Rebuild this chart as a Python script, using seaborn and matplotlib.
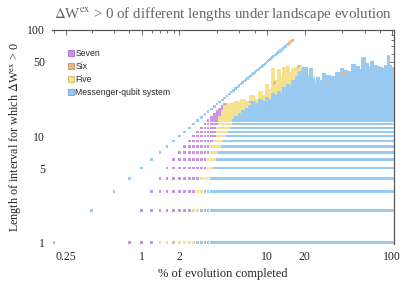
import numpy as np
import pandas as pd
import seaborn as sns
import matplotlib.pyplot as plt
from matplotlib.lines import Line2D
from matplotlib.ticker import FixedLocator, FixedFormatter, NullFormatter

# evolution has 500 steps, step k sits at k/5 % of the evolution
n_steps = 500

# interval covering the whole history so far (length = step)
diag_steps = list(range(1, 81))
diag_six_from = 75

# short intervals: one row per length, steps where each system takes over
row_len = list(range(1, 21))
row_first = [4, 5, 6, 7, 8, 9, 10, 11, 12, 13, 14, 15, 16, 17, 18, 19, 20, 21, 22, 23]
row_five = [7, 13, 14, 15, 17, 17, 18, 18, 19, 20, 20, 20, 21, 21, 21, 22, 22, 23, 23, 24]
row_msg = [14, 15, 16, 18, 19, 20, 21, 22, 23, 24, 25, 26, 27, 27, 28, 30, 32, 34, 36, 38]

# long intervals: longest length per block of steps (block start in %)
block_pct = [5.0, 5.6, 6.2, 6.8, 7.4, 8.0, 8.6, 9.2, 9.8, 10.4, 11.0, 11.6, 12.2,
             12.8, 13.4, 14.0, 14.6, 15.2, 15.8, 16.4, 17.0, 17.6, 18.2, 18.8, 19.4,
             20, 21, 22, 23, 24, 25, 26, 27, 28, 29, 30, 31.5, 33, 34.5, 36, 37.5,
             39, 40.5, 42, 43.5, 45, 46.5, 48, 50, 52, 54, 56, 58, 60, 62, 64, 66,
             68, 70, 72, 74, 76, 78, 80, 82, 84, 86, 88, 90, 92, 94, 96, 98]
five_top = [20, 21, 22, 21, 24, 22, 26, 24, 30, 27, 43, 33, 42, 36, 44, 38, 45, 39,
            43, 37, 44, 44, 46, 40, 43,
            40, 38, 34, 36, 33, 30, 32, 30, 34, 35, 33, 34, 30, 30, 35, 36,
            34, 38, 36, 37, 33, 30, 35, 30, 33, 36, 40, 38, 42, 35, 40, 38,
            36, 41, 44, 38, 35, 40, 36, 39, 35, 38, 45, 42, 44, 38, 35, 38]
msg_top = [20, 20, 20, 20, 21, 20, 22, 21, 23, 22, 25, 24, 26, 25, 28, 27, 30, 29,
           33, 31, 36, 33, 40, 35, 44,
           44, 36, 43, 34, 31, 35, 30, 33, 38, 32, 37, 31, 36, 33, 39, 32,
           43, 35, 41, 33, 40, 36, 47, 35, 45, 38, 42, 54, 40, 48, 37, 45,
           50, 39, 46, 36, 45, 41, 44, 37, 43, 39, 46, 40, 56, 42, 46, 44]

# isolated "Six" points
six_pct = [1.8, 11.4, 11.6, 17.6, 17.8, 29.8, 40.6]
six_len = [1, 31, 32, 45, 46, 32, 39]

systems = ["Seven", "Six", "Five", "Messenger-qubit system"]
colors = {"Seven": "#c993e8", "Six": "#eeb48a", "Five": "#f5e28e",
          "Messenger-qubit system": "#99caf2"}
edge = {"Seven": "#9a5cc0", "Six": "#c07f50", "Five": "#c8b04a",
        "Messenger-qubit system": "#5a94c8"}

recs = []
for L, k0, k5, km in zip(row_len, row_first, row_five, row_msg):
    for k in range(k0, n_steps + 1):
        if k < k5:
            s = "Seven"
        elif k < km:
            s = "Five"
        else:
            s = "Messenger-qubit system"
        recs.append((k / 5, L, s))

ends = block_pct[1:] + [100.2]
for p0, p1, t5, tm in zip(block_pct, ends, five_top, msg_top):
    for k in range(int(round(p0 * 5)), int(round(p1 * 5))):
        for L in range(21, t5 + 1):
            recs.append((k / 5, L, "Five"))
        for L in range(21, tm + 1):
            recs.append((k / 5, L, "Messenger-qubit system"))

for k in diag_steps:
    recs.append((k / 5, k, "Six" if k >= diag_six_from else "Messenger-qubit system"))

for p, L in zip(six_pct, six_len):
    recs.append((p, L, "Six"))

df = pd.DataFrame(recs, columns=["pct", "length", "system"])
draw_order = ["Seven", "Five", "Messenger-qubit system", "Six"]
df["system"] = pd.Categorical(df["system"], categories=draw_order, ordered=True)
df = df.sort_values("system", kind="stable")

sns.set_style("white")
plt.rcParams["font.family"] = ["Liberation Serif", "DejaVu Serif"]
plt.rcParams["mathtext.fontset"] = "stix"

fig = plt.figure(figsize=(4.09, 2.83), dpi=100)
ax = fig.add_axes([52 / 409, 1 - 244 / 283, 342 / 409, 214 / 283])

sns.scatterplot(data=df, x="pct", y="length", hue="system", hue_order=systems,
                palette=colors, marker="s", s=3.3, linewidth=0, legend=False, ax=ax)

ax.set_xscale("log")
ax.set_yscale("log")
ax.set_xlim(0.193, 103)
ax.set_ylim(0.965, 100)

# left / bottom: no line, light outward ticks with labels
ax.spines["left"].set_visible(False)
ax.spines["bottom"].set_visible(False)
for side in ["top", "right"]:
    ax.spines[side].set_color("#555555")
    ax.spines[side].set_linewidth(0.8)

ax.xaxis.set_major_locator(FixedLocator([0.25, 1, 2, 10, 20, 100]))
ax.xaxis.set_major_formatter(FixedFormatter(["0.25", "1", "2", "10", "20", "100"]))
x_minor = [0.2, 0.4, 0.6, 0.8, 1.2, 1.4, 1.6, 1.8, 4, 6, 8, 40, 60, 80]
ax.xaxis.set_minor_locator(FixedLocator(x_minor))
ax.xaxis.set_minor_formatter(NullFormatter())
ax.yaxis.set_major_locator(FixedLocator([1, 5, 10, 50, 100]))
ax.yaxis.set_major_formatter(FixedFormatter(["1", "5", "10", "50", "100"]))
y_minor = [2, 3, 4, 6, 7, 8, 9, 20, 30, 40, 60, 70, 80, 90]
ax.yaxis.set_minor_locator(FixedLocator(y_minor))
ax.yaxis.set_minor_formatter(NullFormatter())
ax.tick_params(which="both", direction="out", color="#999999", width=0.6,
               labelsize=8.5, pad=2, top=False, right=False)
ax.tick_params(which="major", length=3)
ax.tick_params(which="minor", length=1.8)

# top / right: inward ticks on the frame
top = ax.secondary_xaxis("top")
top.xaxis.set_major_locator(FixedLocator([0.25, 1, 2, 10, 20, 100]))
top.xaxis.set_minor_locator(FixedLocator(x_minor))
top.xaxis.set_major_formatter(NullFormatter())
top.xaxis.set_minor_formatter(NullFormatter())
right = ax.secondary_yaxis("right")
right.yaxis.set_major_locator(FixedLocator([1, 5, 10, 50, 100]))
right.yaxis.set_minor_locator(FixedLocator(y_minor))
right.yaxis.set_major_formatter(NullFormatter())
right.yaxis.set_minor_formatter(NullFormatter())
for sec in [top, right]:
    for sp in sec.spines.values():
        sp.set_color("#555555")
        sp.set_linewidth(0.8)
    sec.tick_params(which="both", direction="in", color="#555555", width=0.6)
    sec.tick_params(which="major", length=3.5)
    sec.tick_params(which="minor", length=2)

ax.set_title(r"$\Delta$W$^{\mathrm{ex}}$ > 0 of different lengths under landscape evolution",
             fontsize=10.7, color="#666666", pad=8.5)
ax.set_xlabel("% of evolution completed", fontsize=9, labelpad=4)
ax.set_ylabel(r"Length of interval for which $\Delta$W$^{\mathrm{ex}}$ > 0", fontsize=8.7,
              labelpad=3)

handles = [Line2D([], [], linestyle="", marker="s", markersize=3.8,
                  markerfacecolor=colors[s], markeredgecolor=edge[s],
                  markeredgewidth=0.5) for s in systems]
ax.legend(handles, systems, loc="upper left", bbox_to_anchor=(0.033, 0.93),
          frameon=False, prop={"family": "Liberation Sans", "size": 6.2},
          handlelength=0.7, handletextpad=0.2, labelspacing=0.47, borderpad=0)

fig.savefig("out.png", dpi=100)
